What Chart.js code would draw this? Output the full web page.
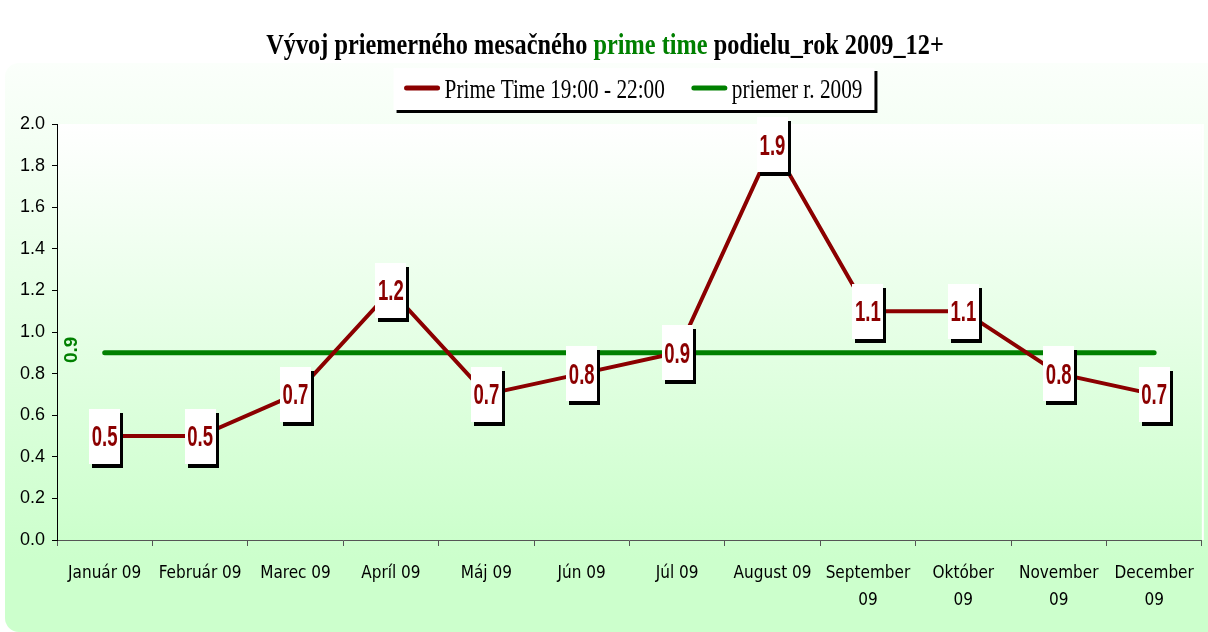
<!DOCTYPE html>
<html>
<head>
<meta charset="utf-8">
<title>Prime time podiel 2009</title>
<script src="https://cdn.jsdelivr.net/npm/chart.js@4.4.1/dist/chart.umd.min.js"></script>
<style>
  html, body { margin: 0; padding: 0; background: #fff; }
  canvas { display: block; }
</style>
</head>
<body>
<canvas id="shareChart" width="1208" height="632"></canvas>
<script>
// monthly average prime time share, 2009, 12+
const months = ['Január 09', 'Február 09', 'Marec 09', 'Apríl 09', 'Máj 09', 'Jún 09', 'Júl 09',
  'August 09', ['September', '09'], ['Október', '09'], ['November', '09'], ['December', '09']];
const primeTime = [0.5, 0.5, 0.7, 1.2, 0.7, 0.8, 0.9, 1.9, 1.1, 1.1, 0.8, 0.7];
const yearAverage = [0.9, 0.9, 0.9, 0.9, 0.9, 0.9, 0.9, 0.9, 0.9, 0.9, 0.9, 0.9];
const yTicks = [0.0, 0.2, 0.4, 0.6, 0.8, 1.0, 1.2, 1.4, 1.6, 1.8, 2.0];
const averageLabel = '0.9';

const RED = '#8b0000';
const GREEN = '#008000';

// draws text squeezed horizontally by sx
function squeezedText(ctx, text, x, y, sx, align) {
  ctx.save();
  ctx.translate(x, y);
  ctx.scale(sx, 1);
  ctx.textAlign = align;
  ctx.fillText(text, 0, 0);
  ctx.restore();
}

// green panel behind everything + plot area gradient
const panel = {
  id: 'panel',
  beforeDraw(chart) {
    const { ctx, width, height, chartArea: a } = chart;
    ctx.save();
    ctx.fillStyle = '#fff';
    ctx.fillRect(0, 0, width, height);

    let g = ctx.createLinearGradient(0, 63, 0, 560);
    g.addColorStop(0, '#fbfffb');
    g.addColorStop(1, '#ccffcc');
    ctx.fillStyle = g;
    ctx.beginPath();
    ctx.roundRect(5, 63, width + 40, height - 63, 14);
    ctx.fill();

    g = ctx.createLinearGradient(0, a.top, 0, a.bottom);
    g.addColorStop(0, '#ffffff');
    g.addColorStop(1, '#ccffcc');
    ctx.fillStyle = g;
    ctx.fillRect(a.left, a.top, a.right - a.left, a.bottom - a.top);
    ctx.strokeStyle = '#ffffff';
    ctx.lineWidth = 2;
    ctx.beginPath();
    ctx.moveTo(a.right + 1, a.top);
    ctx.lineTo(a.right + 1, a.bottom);
    ctx.stroke();
    ctx.restore();
  }
};

// title with the green "prime time" part, and the boxed legend
const header = {
  id: 'header',
  afterDraw(chart) {
    const ctx = chart.ctx;
    ctx.save();
    const parts = [
      ['Vývoj priemerného mesačného ', '#000'],
      ['prime time', GREEN],
      [' podielu_rok 2009_12+', '#000']
    ];
    const sx = 0.81;
    ctx.font = 'bold 30px "Liberation Serif"';
    ctx.textBaseline = 'alphabetic';
    const total = parts.reduce((s, p) => s + ctx.measureText(p[0]).width * sx, 0);
    let x = 605 - total / 2;
    parts.forEach(([txt, col]) => {
      ctx.fillStyle = col;
      squeezedText(ctx, txt, x, 54, sx, 'left');
      x += ctx.measureText(txt).width * sx;
    });

    // legend
    const lsx = 0.76;
    ctx.font = '28px "Liberation Serif"';
    const items = chart.data.datasets.map(d => ({
      text: d.label, color: d.borderColor, w: ctx.measureText(d.label).width * lsx
    }));
    const lineLen = 35, gapLine = 5, gapItem = 27, padL = 11, padR = 12;
    const inner = items.reduce((s, it) => s + lineLen + gapLine + it.w, 0) + gapItem * (items.length - 1);
    const boxW = inner + padL + padR;
    const boxL = 634 - boxW / 2, boxT = 68, boxH = 42;
    ctx.fillStyle = '#000';
    ctx.fillRect(boxL + 3, boxT + 3, boxW, boxH);
    ctx.fillStyle = '#fff';
    ctx.fillRect(boxL, boxT, boxW, boxH);

    let lx = boxL + padL;
    items.forEach(it => {
      ctx.strokeStyle = it.color;
      ctx.lineWidth = 5;
      ctx.lineCap = 'round';
      ctx.beginPath();
      ctx.moveTo(lx + 2, 88);
      ctx.lineTo(lx + lineLen - 2, 88);
      ctx.stroke();
      ctx.fillStyle = '#000';
      squeezedText(ctx, it.text, lx + lineLen + gapLine, 98, lsx, 'left');
      lx += lineLen + gapLine + it.w + gapItem;
    });
    ctx.restore();
  }
};

// white value boxes with a black drop shadow, plus the rotated average label
const valueBoxes = {
  id: 'valueBoxes',
  afterDatasetsDraw(chart) {
    const ctx = chart.ctx;
    ctx.save();
    const w = 31, h = 55;
    const pts = chart.getDatasetMeta(0).data;
    pts.forEach((pt, i) => {
      const bx = Math.round(pt.x - w / 2), by = Math.round(pt.y - h / 2);
      ctx.fillStyle = '#000';
      ctx.fillRect(bx + 3, by + 4, w, h);
      ctx.fillStyle = '#fff';
      ctx.fillRect(bx, by, w, h);
      ctx.fillStyle = RED;
      ctx.font = 'bold 29px "Liberation Sans"';
      ctx.textBaseline = 'alphabetic';
      squeezedText(ctx, primeTime[i].toFixed(1), pt.x, pt.y + 10, 0.64, 'center');
    });

    const first = chart.getDatasetMeta(1).data[0];
    ctx.translate(first.x - 33, first.y - 3);
    ctx.rotate(-Math.PI / 2);
    ctx.fillStyle = GREEN;
    ctx.font = 'bold 19px "Liberation Sans"';
    ctx.textAlign = 'center';
    ctx.textBaseline = 'middle';
    ctx.fillText(averageLabel, 0, 0);
    ctx.restore();
  }
};

const ctx = document.getElementById('shareChart').getContext('2d');

const shareChart = new Chart(ctx, {
  type: 'line',
  data: {
    labels: months,
    datasets: [{
      label: 'Prime Time 19:00 - 22:00',
      data: primeTime,
      borderColor: RED,
      borderWidth: 4,
      pointRadius: 0,
      tension: 0
    }, {
      label: 'priemer r. 2009',
      data: yearAverage,
      borderColor: GREEN,
      borderWidth: 5,
      borderCapStyle: 'round',
      pointRadius: 0,
      tension: 0
    }]
  },
  options: {
    responsive: false,
    animation: false,
    devicePixelRatio: 1,
    layout: { padding: { top: 124, right: 5, bottom: 0, left: 0 } },
    plugins: {
      legend: { display: false },
      title: { display: false },
      tooltip: { enabled: false }
    },
    scales: {
      x: {
        offset: true,
        grid: { offset: true, drawOnChartArea: false, tickLength: 6, color: '#555' },
        border: { color: '#555', width: 1 },
        ticks: {
          autoSkip: false,
          maxRotation: 0,
          color: '#000',
          padding: 14,
          font: { family: '"DejaVu Sans Condensed", "DejaVu Sans"', size: 17, lineHeight: 1.6 }
        },
        afterFit: s => { s.height = 92; }
      },
      y: {
        min: 0,
        max: 2,
        afterBuildTicks: s => { s.ticks = yTicks.map(v => ({ value: v })); },
        grid: { drawOnChartArea: false, tickLength: 5, color: '#000' },
        border: { color: '#000', width: 1 },
        ticks: {
          color: '#000',
          padding: 7,
          font: { family: '"Liberation Sans"', size: 18 },
          callback: v => v.toFixed(1)
        },
        afterFit: s => { s.width = 57; }
      }
    }
  },
  plugins: [panel, header, valueBoxes]
});
</script>
</body>
</html>
